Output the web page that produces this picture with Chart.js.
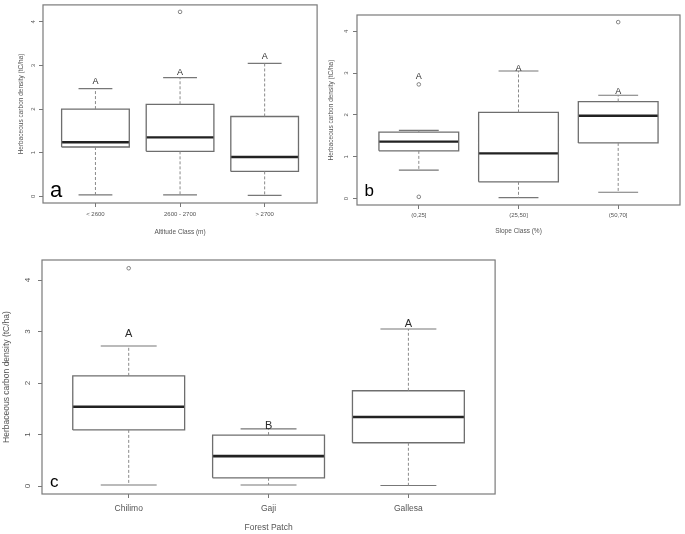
<!DOCTYPE html>
<html>
<head>
<meta charset="utf-8">
<script src="https://cdn.jsdelivr.net/npm/chart.js@4.4.1/dist/chart.umd.min.js"></script>
<style>
  body { margin: 0; background: #fff; width: 685px; height: 534px; overflow: hidden; position: relative; }
  canvas { position: absolute; }
</style>
</head>
<body>
<canvas id="grafico-a" width="322" height="245" style="left:0;top:0"></canvas>
<canvas id="grafico-b" width="365" height="245" style="left:320px;top:0"></canvas>
<canvas id="grafico-c" width="500" height="284" style="left:0;top:250px"></canvas>
<script>
// Painel a - classe de altitude
const altitudeClasses = ['< 2600', '2600 - 2700', '> 2700'];
const altitudeMin = [0.03, 0.03, 0.02];
const altitudeQ1 = [1.13, 1.03, 0.57];
const altitudeMedian = [1.24, 1.35, 0.90];
const altitudeQ3 = [2.00, 2.11, 1.83];
const altitudeMax = [2.47, 2.72, 3.05];
const altitudeOutliers = [[], [4.23], []];
const altitudeLetters = ['A', 'A', 'A'];
const altitudeLetterY = [2.64, 2.83, 3.21];

// Painel b - classe de declividade
const slopeClasses = ['(0,25]', '(25,50]', '(50,70]'];
const slopeMin = [0.68, 0.02, 0.15];
const slopeQ1 = [1.14, 0.40, 1.33];
const slopeMedian = [1.36, 1.08, 1.98];
const slopeQ3 = [1.59, 2.06, 2.32];
const slopeMax = [1.63, 3.05, 2.47];
const slopeOutliers = [[2.73, 0.04], [], [4.22]];
const slopeLetters = ['A', 'A', 'A'];
const slopeLetterY = [2.92, 3.12, 2.57];

// Painel c - fragmento florestal
const patchNames = ['Chilimo', 'Gaji', 'Gallesa'];
const patchMin = [0.02, 0.02, 0.01];
const patchQ1 = [1.09, 0.16, 0.84];
const patchMedian = [1.54, 0.58, 1.34];
const patchQ3 = [2.14, 0.99, 1.85];
const patchMax = [2.72, 1.11, 3.05];
const patchOutliers = [[4.23], [], []];
const patchLetters = ['A', 'B', 'A'];
const patchLetterY = [2.95, 1.16, 3.15];

const yTicks = [0, 1, 2, 3, 4];
const yTitle = 'Herbaceous carbon density (tC/ha)';

Chart.defaults.font.family = '"Liberation Sans", Arial, sans-serif';
Chart.defaults.color = '#555';

// Moldura, rotulos do eixo y, letras e identificacao do painel
const pluginPainel = {
  id: 'painel',
  afterDraw(chart, args, opts) {
    const { ctx, chartArea: a, scales: { x, y } } = chart;
    ctx.save();
    ctx.strokeStyle = '#7a7a7a';
    ctx.lineWidth = 1.2;
    ctx.strokeRect(a.left, a.top, a.right - a.left, a.bottom - a.top);

    ctx.fillStyle = '#555';
    ctx.font = opts.fonteTick;
    ctx.textAlign = 'center';
    ctx.textBaseline = 'middle';
    y.ticks.forEach(t => {
      ctx.save();
      ctx.translate(a.left - opts.distTick, y.getPixelForValue(t.value));
      ctx.rotate(-Math.PI / 2);
      ctx.fillText(String(t.value), 0, 0);
      ctx.restore();
    });

    ctx.fillStyle = '#2a2a2a';
    ctx.font = opts.fonteLetra;
    opts.letras.forEach((l, i) => {
      ctx.fillText(l, x.getPixelForValue(i + 1), y.getPixelForValue(opts.letrasY[i]));
    });

    ctx.textAlign = 'left';
    ctx.textBaseline = 'alphabetic';
    ctx.fillStyle = '#000';
    ctx.font = opts.fontePainel;
    ctx.fillText(opts.rotulo, a.left + opts.rotuloDx, a.bottom - opts.rotuloDy);
    ctx.restore();
  }
};

function montarDatasets(min, q1, med, q3, max, outliers, larguraMediana) {
  const caixas = [], medianas = [], bigodes = [], hastes = [], pontos = [];
  min.forEach((_, i) => {
    const x = i + 1;
    caixas.push({ x: x - 0.4, y: q1[i] }, { x: x + 0.4, y: q1[i] }, { x: x + 0.4, y: q3[i] },
      { x: x - 0.4, y: q3[i] }, { x: x - 0.4, y: q1[i] }, { x: x, y: null });
    medianas.push({ x: x - 0.4, y: med[i] }, { x: x + 0.4, y: med[i] }, { x: x, y: null });
    bigodes.push({ x: x, y: q3[i] }, { x: x, y: max[i] }, { x: x, y: null },
      { x: x, y: q1[i] }, { x: x, y: min[i] }, { x: x, y: null });
    hastes.push({ x: x - 0.2, y: max[i] }, { x: x + 0.2, y: max[i] }, { x: x, y: null },
      { x: x - 0.2, y: min[i] }, { x: x + 0.2, y: min[i] }, { x: x, y: null });
    outliers[i].forEach(v => pontos.push({ x: x, y: v }));
  });
  const base = { pointRadius: 0, spanGaps: false, fill: false, tension: 0, borderCapStyle: 'butt' };
  return [
    { ...base, label: 'bigodes', data: bigodes, borderColor: '#8a8a8a', borderWidth: 1, borderDash: [3, 2] },
    { ...base, label: 'hastes', data: hastes, borderColor: '#777', borderWidth: 1.2 },
    { ...base, label: 'caixas', data: caixas, borderColor: '#6e6e6e', borderWidth: 1.3, borderJoinStyle: 'miter' },
    { ...base, label: 'medianas', data: medianas, borderColor: '#222', borderWidth: larguraMediana },
    { label: 'outliers', data: pontos, showLine: false, pointRadius: 1.8, pointStyle: 'circle',
      pointBorderColor: '#777', pointBackgroundColor: 'rgba(0,0,0,0)', pointBorderWidth: 0.9 }
  ];
}

function criarGrafico(id, p) {
  const ctx = document.getElementById(id).getContext('2d');
  return new Chart(ctx, {
    type: 'line',
    data: { datasets: montarDatasets(p.min, p.q1, p.med, p.q3, p.max, p.outliers, p.larguraMediana) },
    options: {
      responsive: false,
      animation: false,
      layout: { padding: p.padding },
      plugins: {
        legend: { display: false },
        tooltip: { enabled: false },
        painel: {
          letras: p.letras, letrasY: p.letrasY, rotulo: p.rotulo,
          fonteTick: p.fonteTick, fonteLetra: p.fonteLetra, fontePainel: p.fontePainel,
          distTick: p.distTick, rotuloDx: p.rotuloDx, rotuloDy: p.rotuloDy
        }
      },
      scales: {
        x: {
          type: 'linear',
          min: 0.38,
          max: 3.62,
          afterBuildTicks: s => { s.ticks = p.categorias.map((c, i) => ({ value: i + 1 })); },
          afterFit: s => { s.height = p.alturaX; },
          border: { display: false },
          grid: { drawOnChartArea: false, drawTicks: true, tickLength: 4, color: '#777' },
          ticks: {
            autoSkip: false, maxRotation: 0, padding: p.padTickX, color: '#555',
            font: { size: p.tamTick },
            callback: (v, i) => p.categorias[i]
          },
          title: { display: true, text: p.tituloX, color: '#555', font: { size: p.tamTitulo },
            padding: { top: 0, bottom: p.padTituloX } }
        },
        y: {
          min: -0.155,
          max: 4.39,
          afterBuildTicks: s => { s.ticks = yTicks.map(v => ({ value: v })); },
          afterFit: s => { s.width = p.larguraY; },
          border: { display: false },
          grid: { drawOnChartArea: false, drawTicks: true, tickLength: 4, color: '#777' },
          ticks: { display: false },
          title: { display: true, text: yTitle, color: '#555', font: { size: p.tamTitulo },
            padding: { top: p.padTituloY, bottom: 0 } }
        }
      }
    },
    plugins: [pluginPainel]
  });
}

criarGrafico('grafico-a', {
  categorias: altitudeClasses, min: altitudeMin, q1: altitudeQ1, med: altitudeMedian,
  q3: altitudeQ3, max: altitudeMax, outliers: altitudeOutliers,
  letras: altitudeLetters, letrasY: altitudeLetterY, rotulo: 'a', tituloX: 'Altitude Class (m)',
  padding: { left: 0, right: 4, top: 3, bottom: 0 }, larguraY: 43, alturaX: 42,
  tamTick: 6, tamTitulo: 6.5, padTickX: 4, padTituloX: 9, padTituloY: 17,
  fonteTick: '6px "Liberation Sans", Arial', fonteLetra: '9px "Liberation Sans", Arial',
  fontePainel: '22px "Liberation Sans", Arial', distTick: 10, rotuloDx: 7, rotuloDy: 6,
  larguraMediana: 2.4
});

criarGrafico('grafico-b', {
  categorias: slopeClasses, min: slopeMin, q1: slopeQ1, med: slopeMedian,
  q3: slopeQ3, max: slopeMax, outliers: slopeOutliers,
  letras: slopeLetters, letrasY: slopeLetterY, rotulo: 'b', tituloX: 'Slope Class (%)',
  padding: { left: 0, right: 5, top: 15, bottom: 0 }, larguraY: 37, alturaX: 40,
  tamTick: 6, tamTitulo: 6.5, padTickX: 3, padTituloX: 10, padTituloY: 7,
  fonteTick: '6px "Liberation Sans", Arial', fonteLetra: '9px "Liberation Sans", Arial',
  fontePainel: '17px "Liberation Sans", Arial', distTick: 11, rotuloDx: 7.5, rotuloDy: 9,
  larguraMediana: 2.4
});

criarGrafico('grafico-c', {
  categorias: patchNames, min: patchMin, q1: patchQ1, med: patchMedian,
  q3: patchQ3, max: patchMax, outliers: patchOutliers,
  letras: patchLetters, letrasY: patchLetterY, rotulo: 'c', tituloX: 'Forest Patch',
  padding: { left: 0, right: 3, top: 10, bottom: 0 }, larguraY: 42, alturaX: 40,
  tamTick: 8.5, tamTitulo: 8.5, padTickX: 6, padTituloX: 1, padTituloY: 2,
  fonteTick: '8px "Liberation Sans", Arial', fonteLetra: '11px "Liberation Sans", Arial',
  fontePainel: '17px "Liberation Sans", Arial', distTick: 14, rotuloDx: 8, rotuloDy: 7,
  larguraMediana: 2.6
});
</script>
</body>
</html>
